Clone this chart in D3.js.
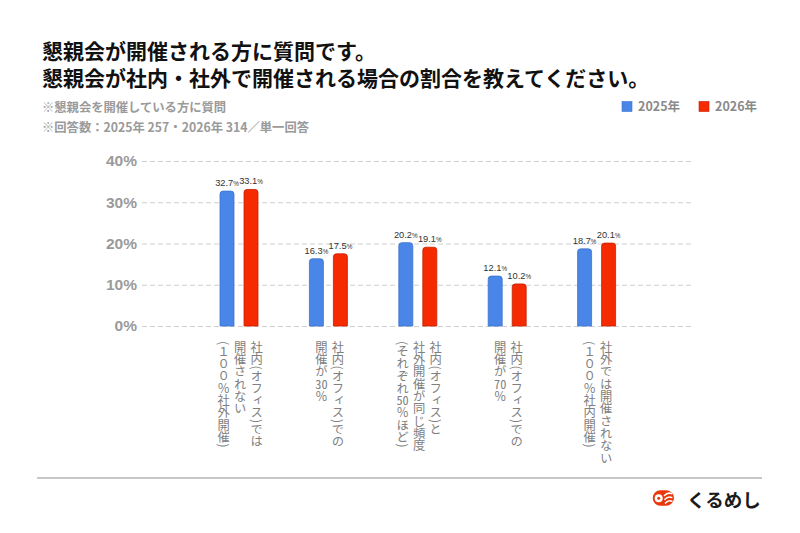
<!DOCTYPE html>
<html><head><meta charset="utf-8">
<script src="https://cdn.jsdelivr.net/npm/d3@7"></script>
<style>
body{margin:0;background:#fff;}
#wrap{position:relative;width:800px;height:533px;overflow:hidden;background:#fff;}
.vlab{position:absolute;writing-mode:vertical-rl;font-family:"Noto Sans CJK JP","Noto Sans CJK SC",sans-serif;font-size:12.3px;line-height:16.5px;color:#808080;white-space:nowrap;}
.tcy{text-combine-upright:all;}
svg{position:absolute;left:0;top:0;}
</style></head><body><div id="wrap"></div>
<script>
// ---- data ----
const categoryLines = [
  ["社内(オフィス)では", "開催されない", "(１００％社外開催)"],
  ["社内(オフィス)での", "開催が30％"],
  ["社内(オフィス)と", "社外開催が同じ頻度", "(それぞれ50％ほど)"],
  ["社内(オフィス)での", "開催が70％"],
  ["社外では開催されない", "(１００％社内開催)"]
];
const categories = categoryLines.map(l => l.join(""));
const years = ["2025年", "2026年"];
const values2025 = [32.7, 16.3, 20.2, 12.1, 18.7];
const values2026 = [33.1, 17.5, 19.1, 10.2, 20.1];
const yTicks = [0, 10, 20, 30, 40];
const titleLines = ["懇親会が開催される方に質問です。", "懇親会が社内・社外で開催される場合の割合を教えてください。"];
const noteLines = ["※懇親会を開催している方に質問", "※回答数：2025年 257・2026年 314／単一回答"];
const brand = "くるめし";

const colors = {"2025年": "#4a86e8", "2026年": "#f52a00"};
const strokes = {"2025年": "#3a72d0", "2026年": "#c81e00"};
const seriesVals = {"2025年": values2025, "2026年": values2026};

const W = 800, H = 533;
const wrap = d3.select("#wrap");
const svg = wrap.append("svg").attr("width", W).attr("height", H);

const jp = '"Noto Sans CJK JP","Noto Sans CJK SC",sans-serif';
const latin = '"Liberation Sans",Arial,"Noto Sans CJK JP",sans-serif';

// title
svg.append("g").selectAll("text").data(titleLines).join("text")
  .attr("x", 42).attr("y", (d, i) => 58.5 + i * 27.5)
  .attr("font-family", jp).attr("font-size", 21).attr("font-weight", 700)
  .attr("fill", "#111").text(d => d);

// notes
svg.append("g").selectAll("text").data(noteLines).join("text")
  .attr("x", 42).attr("y", (d, i) => 111.5 + i * 20)
  .attr("font-family", jp).attr("font-size", 12.3).attr("font-weight", 700)
  .attr("fill", "#9a9a9a").text(d => d);

// legend
const lg = svg.append("g");
const legendX = [622, 699];
years.forEach((yr, i) => {
  lg.append("rect").attr("x", legendX[i]).attr("y", 101.5).attr("width", 10).attr("height", 10)
    .attr("fill", colors[yr]).attr("stroke", strokes[yr]).attr("stroke-width", 0.6);
  lg.append("text").attr("x", legendX[i] + 16).attr("y", 111).attr("font-family", jp)
    .attr("font-size", 12.5).attr("font-weight", 700).attr("fill", "#8a8a8a").text(yr);
});

// scales
const y = d3.scaleLinear().domain([0, 40]).range([326, 161]);
const x0 = d3.scaleBand().domain(categories).range([194.3, 641.3]);
const groupW = 38;
const x1 = d3.scaleBand().domain(years).range([0, groupW]).paddingInner(0.4167);

// axis + grid
const axisLeft = 142, gridRight = 693;
const ax = svg.append("g").attr("transform", `translate(${axisLeft},0)`)
  .call(d3.axisLeft(y).tickValues(yTicks).tickSize(-(gridRight - axisLeft)).tickPadding(5).tickFormat(d => d + "%"));
ax.select(".domain").remove();
ax.selectAll(".tick line").attr("stroke", "#cfcfcf").attr("stroke-dasharray", "5,3").attr("stroke-width", 1);
ax.selectAll(".tick text").attr("font-family", latin).attr("font-size", 15.5).attr("font-weight", 700).attr("fill", "#9a9a9a");

// bars
function topRounded(x, yTop, w, h, r) {
  r = Math.min(r, h, w / 2);
  return `M${x},${yTop + h}V${yTop + r}Q${x},${yTop} ${x + r},${yTop}H${x + w - r}Q${x + w},${yTop} ${x + w},${yTop + r}V${yTop + h}Z`;
}
const barData = [];
categories.forEach((c, ci) => years.forEach(yr => barData.push({c, yr, v: seriesVals[yr][ci]})));
const gx = c => x0(c) + (x0.bandwidth() - groupW) / 2;

svg.append("g").selectAll("path").data(barData).join("path")
  .attr("d", d => topRounded(gx(d.c) + x1(d.yr), y(d.v), x1.bandwidth(), y(0) - y(d.v), 3))
  .attr("fill", d => colors[d.yr]).attr("stroke", d => strokes[d.yr]).attr("stroke-width", 0.8);

// value labels
const vl = svg.append("g").selectAll("text").data(barData).join("text")
  .attr("x", d => gx(d.c) + x1(d.yr) + x1.bandwidth() / 2)
  .attr("y", d => y(d.v) - 5)
  .attr("text-anchor", "middle").attr("font-family", latin).attr("fill", "#333");
vl.append("tspan").attr("font-size", 9.3).text(d => d.v.toFixed(1));
vl.append("tspan").attr("font-size", 6.3).text("%");

// category labels (vertical)
function withTcy(s) {
  return s.replace(/([0-9]{2})/g, '<span class="tcy">$1</span>');
}
categoryLines.forEach((lines, ci) => {
  const c = categories[ci];
  const cx = x0(c) + x0.bandwidth() / 2;
  const lh = 16.5;
  const w = lines.length * lh;
  wrap.append("div").attr("class", "vlab")
    .style("left", (cx - w / 2 + 1) + "px").style("top", "341px").style("width", w + "px")
    .html(lines.map(withTcy).join("<br>"));
});

// bottom rule
svg.append("line").attr("x1", 37).attr("x2", 762).attr("y1", 478).attr("y2", 478)
  .attr("stroke", "#b5b5b5").attr("stroke-width", 1.5);

// logo
const logo = svg.append("g").attr("transform", "translate(663.5,498)");
logo.append("path").attr("d", "M-3,-7.8 H2.5 A8,7.8 0 0 1 2.5,7.8 H-3 A7.8,7.8 0 0 1 -3,-7.8 Z").attr("fill", "#e8380d");
logo.append("circle").attr("cx", -4.8).attr("cy", 0.3).attr("r", 4).attr("fill", "#fff");
logo.append("circle").attr("cx", -4.8).attr("cy", 0.3).attr("r", 1.5).attr("fill", "#e8380d");
[-3.8, 0, 3.8].forEach((dy, i) => {
  logo.append("path").attr("d", `M${1 + i * 0.5},${dy + 1.3} Q${4 + i * 0.4},${dy - 2} ${8 + i * 0.2},${dy - 0.6}`)
    .attr("fill", "none").attr("stroke", "#fff").attr("stroke-width", 1.6).attr("stroke-linecap", "round");
});
svg.append("text").attr("x", 687).attr("y", 506.5).attr("font-family", jp).attr("font-size", 18.5)
  .attr("font-weight", 700).attr("fill", "#1a1a1a").text(brand);
</script></body></html>
